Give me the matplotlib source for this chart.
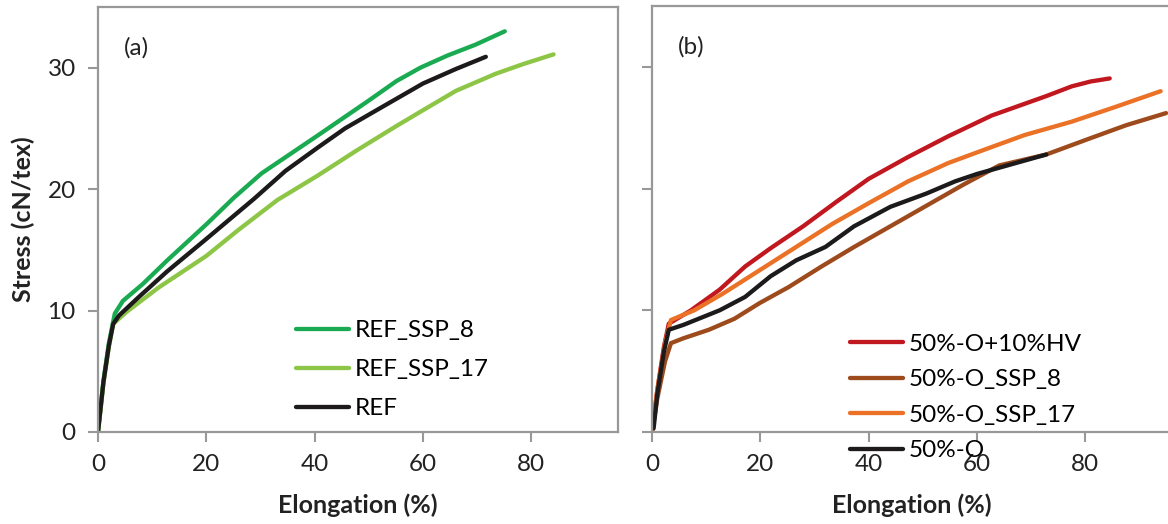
import matplotlib.pyplot as plt

plt.rcParams["font.family"] = ["Lato", "DejaVu Sans"]

# panel (a) - REF series
ref_ssp8_x = [0, 1, 2, 3.1, 4.6, 8.3, 12.7, 20, 25.1, 30.2, 40.5, 50, 55.1, 59.5, 64.5, 69.7, 75.1]
ref_ssp8_y = [0, 4.2, 7.3, 9.75, 10.8, 12.2, 14.1, 17.1, 19.3, 21.3, 24.4, 27.3, 28.9, 30.0, 31.0, 31.9, 33.0]

ref_ssp17_x = [0, 1, 2, 2.8, 5.3, 11.2, 20, 25.8, 33.1, 40.5, 47.8, 55.1, 60, 66.1, 73.4, 78.5, 84.1]
ref_ssp17_y = [0, 4.0, 7.0, 8.9, 9.9, 11.9, 14.5, 16.6, 19.1, 21.1, 23.2, 25.2, 26.5, 28.1, 29.5, 30.3, 31.1]

ref_x = [0, 1, 2, 2.8, 3.9, 7.5, 12.7, 20, 28.8, 34.6, 40.5, 45.6, 52.2, 60, 66.1, 71.6]
ref_y = [0, 4.1, 7.1, 8.9, 9.6, 11.1, 13.2, 15.9, 19.2, 21.5, 23.4, 25.0, 26.7, 28.7, 29.9, 30.9]

# panel (b) - 50%-O series
hv_x = [0, 1, 2.2, 3.1, 7.2, 12.5, 17.2, 21.9, 27.9, 34, 40, 47.3, 54.7, 62.7, 72.8, 77.5, 81, 84.5]
hv_y = [0, 3.5, 7.0, 8.9, 10.0, 11.7, 13.6, 15.1, 16.9, 18.9, 20.8, 22.6, 24.3, 26.0, 27.6, 28.4, 28.8, 29.05]

o_ssp8_x = [0, 1, 2.4, 3.5, 5.8, 10.5, 15.2, 19.9, 25.2, 31.3, 37.3, 44, 50.7, 57.4, 64.1, 72.8, 80.1, 87.5, 94.9]
o_ssp8_y = [0, 2.8, 5.8, 7.3, 7.7, 8.4, 9.3, 10.6, 11.9, 13.6, 15.2, 16.9, 18.6, 20.3, 21.9, 22.8, 24.0, 25.2, 26.2]

o_ssp17_x = [0, 1, 2.4, 3.5, 7.8, 13.2, 19.9, 26.6, 33.3, 40, 47.3, 54.7, 61.4, 68.8, 77.5, 85.5, 93.9]
o_ssp17_y = [0, 3.5, 7.3, 9.2, 10.0, 11.4, 13.3, 15.2, 17.1, 18.8, 20.6, 22.1, 23.2, 24.4, 25.5, 26.7, 28.0]

o_x = [0.3, 1, 2.2, 3.1, 5.8, 12.5, 17.2, 21.9, 26.6, 32, 37.3, 44, 50.7, 56, 60, 64, 68, 72.8]
o_y = [0.3, 3.2, 6.6, 8.4, 8.8, 10.0, 11.1, 12.8, 14.1, 15.2, 16.9, 18.5, 19.6, 20.6, 21.2, 21.7, 22.2, 22.8]

x_ticks = [0, 20, 40, 60, 80]
y_ticks = [0, 10, 20, 30]

GREY = "#989898"
TXT = "#222222"
FS = 17.5

fig = plt.figure(figsize=(11.68, 5.24), dpi=100)
ax_a = fig.add_axes([98 / 1168, 92 / 524, 520 / 1168, 425 / 524])
ax_b = fig.add_axes([652 / 1168, 92 / 524, 520 / 1168, 426 / 524])

lw = 3.1
ax_a.plot(ref_ssp8_x, ref_ssp8_y, color="#1AAB52", lw=lw, label="REF_SSP_8", solid_capstyle="round")
ax_a.plot(ref_ssp17_x, ref_ssp17_y, color="#8DC646", lw=lw, label="REF_SSP_17", solid_capstyle="round")
ax_a.plot(ref_x, ref_y, color="#1C1A1B", lw=lw, label="REF", solid_capstyle="round")

ax_b.plot(hv_x, hv_y, color="#C1171F", lw=lw, label="50%-O+10%HV", solid_capstyle="round")
ax_b.plot(o_ssp8_x, o_ssp8_y, color="#9D4A1C", lw=lw, label="50%-O_SSP_8", solid_capstyle="round")
ax_b.plot(o_ssp17_x, o_ssp17_y, color="#EA7125", lw=lw, label="50%-O_SSP_17", solid_capstyle="round")
ax_b.plot(o_x, o_y, color="#1C1A1B", lw=lw, label="50%-O", solid_capstyle="round")

for ax in (ax_a, ax_b):
    ax.set_xlim(0, 96)
    ax.set_ylim(0, 35)
    ax.set_xticks(x_ticks)
    ax.set_yticks(y_ticks)
    ax.tick_params(direction="out", length=7, width=1.5, color=GREY,
                   labelsize=FS, pad=9, labelcolor=TXT)
    for sp in ax.spines.values():
        sp.set_color(GREY)
        sp.set_linewidth(1.6)
    ax.set_xlabel("Elongation (%)", fontsize=FS + 0.5, fontweight="bold", labelpad=13, color=TXT)

ax_a.legend(frameon=False, fontsize=FS, handlelength=2.2, handletextpad=0.25,
            labelspacing=0.74, loc="upper left", borderpad=0, borderaxespad=0,
            bbox_to_anchor=(0.38, 0.263))
ax_b.legend(frameon=False, fontsize=FS, handlelength=2.2, handletextpad=0.25,
            labelspacing=0.6, loc="upper left", borderpad=0, borderaxespad=0,
            bbox_to_anchor=(0.38, 0.231))

ax_b.spines["right"].set_visible(False)
ax_b.set_yticklabels([])
ax_a.set_ylabel("Stress (cN/tex)", fontsize=FS + 0.5, fontweight="bold", labelpad=9, color=TXT)

ax_a.text(0.05, 0.905, "(a)", transform=ax_a.transAxes, fontsize=FS, ha="left", va="center", color=TXT)
ax_b.text(0.05, 0.905, "(b)", transform=ax_b.transAxes, fontsize=FS, ha="left", va="center", color=TXT)

fig.savefig("out.png", dpi=100)
